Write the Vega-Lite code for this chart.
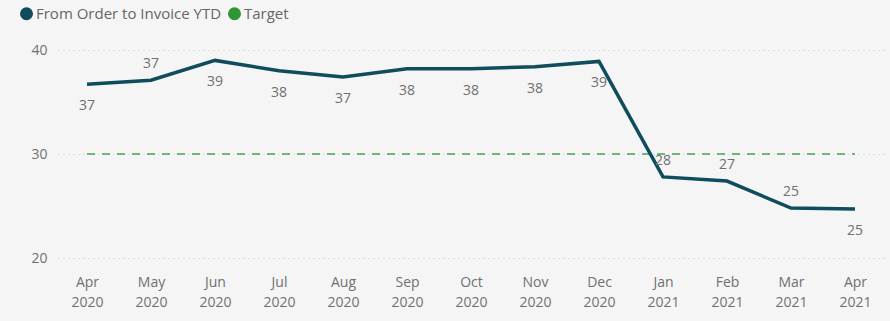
{
  "$schema": "https://vega.github.io/schema/vega-lite/v6.json",
  "width": 826,
  "height": 208,
  "autosize": "none",
  "padding": {"left": 58, "top": 50, "right": 6, "bottom": 63},
  "background": "#f5f5f5",
  "config": {
    "view": {"stroke": null},
    "font": "Open Sans",
    "axis": {"labelFont": "Open Sans", "labelColor": "#707070", "labelFontSize": 14, "domain": false, "ticks": false, "title": null}
  },
  "data": {
    "values": [
      {"month": "Apr 2020", "value": 36.7, "target": 30},
      {"month": "May 2020", "value": 37.1, "target": 30},
      {"month": "Jun 2020", "value": 39.0, "target": 30},
      {"month": "Jul 2020", "value": 38.0, "target": 30},
      {"month": "Aug 2020", "value": 37.4, "target": 30},
      {"month": "Sep 2020", "value": 38.2, "target": 30},
      {"month": "Oct 2020", "value": 38.2, "target": 30},
      {"month": "Nov 2020", "value": 38.4, "target": 30},
      {"month": "Dec 2020", "value": 38.9, "target": 30},
      {"month": "Jan 2021", "value": 27.8, "target": 30},
      {"month": "Feb 2021", "value": 27.4, "target": 30},
      {"month": "Mar 2021", "value": 24.8, "target": 30},
      {"month": "Apr 2021", "value": 24.7, "target": 30}
    ]
  },
  "encoding": {
    "x": {
      "field": "month", "type": "ordinal", "sort": null,
      "scale": {"type": "point", "padding": 0.453},
      "axis": {"labelAngle": 0, "labelExpr": "split(datum.label, ' ')", "labelPadding": 17, "labelLineHeight": 20, "labelBaseline": "top", "grid": false}
    }
  },
  "layer": [
    {
      "mark": {"type": "line", "strokeWidth": 2, "strokeDash": [8, 7], "opacity": 0.65},
      "encoding": {
        "y": {"field": "target", "type": "quantitative", "scale": {"domain": [20, 40]},
          "axis": {"values": [20, 30, 40], "grid": true, "gridColor": "#c8c8c8", "gridDash": [1, 4], "gridWidth": 1.2, "labelPadding": 11}},
        "color": {"datum": "Target", "type": "nominal",
          "scale": {"domain": ["From Order to Invoice YTD", "Target"], "range": ["#0f4c5c", "#2e9635"]},
          "legend": {"orient": "none", "legendX": -39, "legendY": -44, "direction": "horizontal", "title": null,
            "symbolType": "circle", "symbolSize": 170, "symbolStrokeWidth": 0, "symbolOpacity": 1, "labelFontSize": 15, "labelLimit": 400, "labelColor": "#666666", "labelFont": "Open Sans", "labelOffset": 2, "columnPadding": 5,
            "encode": {"symbols": {"update": {"fill": {"scale": "color", "field": "value"}, "opacity": {"value": 1}, "strokeWidth": {"value": 0}}}}}
        }
      }
    },
    {
      "mark": {"type": "line", "strokeWidth": 3.5},
      "encoding": {
        "y": {"field": "value", "type": "quantitative"},
        "color": {"datum": "From Order to Invoice YTD", "type": "nominal"}
      }
    },
    {
      "transform": [{"filter": {"field": "month", "oneOf": ["May 2020", "Jan 2021", "Feb 2021", "Mar 2021"]}}],
      "mark": {"type": "text", "fontSize": 14, "color": "#707070", "dy": -16, "baseline": "middle"},
      "encoding": {
        "y": {"field": "value", "type": "quantitative"},
        "text": {"field": "value", "type": "quantitative", "format": ".0f"}
      }
    },
    {
      "transform": [{"filter": {"not": {"field": "month", "oneOf": ["May 2020", "Jan 2021", "Feb 2021", "Mar 2021"]}}}],
      "mark": {"type": "text", "fontSize": 14, "color": "#707070", "dy": 22, "baseline": "middle"},
      "encoding": {
        "y": {"field": "value", "type": "quantitative"},
        "text": {"field": "value", "type": "quantitative", "format": ".0f"}
      }
    }
  ]
}
